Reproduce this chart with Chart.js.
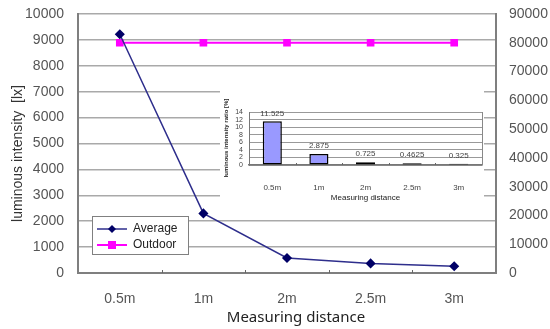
<!DOCTYPE html>
<html>
<head>
<meta charset="utf-8">
<script src="https://cdn.jsdelivr.net/npm/chart.js@4/dist/chart.umd.min.js"></script>
<style>
  html, body { margin: 0; padding: 0; background: #fff; }
  #wrap { position: relative; width: 550px; height: 329px; }
  #main { position: absolute; left: 0; top: 0; }
  #inset { position: absolute; left: 220px; top: 88px; }
</style>
</head>
<body>
<div id="wrap">
  <canvas id="main" width="550" height="329"></canvas>
  <canvas id="inset" width="264" height="118"></canvas>
</div>
<script>
// ---- data ----
const categories = ['0.5m', '1m', '2m', '2.5m', '3m'];
const averageLux = [9220, 2300, 580, 370, 260];
const outdoorLux = [80000, 80000, 80000, 80000, 80000];
const ratioPct = [11.525, 2.875, 0.725, 0.4625, 0.325];
const ratioLabels = ['11.525', '2.875', '0.725', '0.4625', '0.325'];
const seriesNames = ['Average', 'Outdoor'];
const leftTitle = 'luminous intensity  [lx]';
const xTitle = 'Measuring distance';
const insetYTitle = 'luminous intensity ratio [%]';
const insetXTitle = 'Measuring distance';

const NAVY = '#2e2e8c';
const NAVY_PT = '#000066';
const MAGENTA = '#ff00ff';
const GRID = '#a9a9a9';
const AXIS = '#7f7f7f';
const TICK = '#555555';
const plain = v => String(v);

function betweenTicks(chart, scale, len, color) {
  const ctx = chart.ctx;
  const n = scale.ticks.length;
  ctx.save();
  ctx.strokeStyle = color;
  ctx.lineWidth = 1;
  for (let i = 0; i < n - 1; i++) {
    const x = Math.round((scale.getPixelForValue(i) + scale.getPixelForValue(i + 1)) / 2) + 0.5;
    ctx.beginPath();
    ctx.moveTo(x, scale.top);
    ctx.lineTo(x, scale.top - len);
    ctx.stroke();
  }
  ctx.restore();
}
function fitV(w) {
  return function (s) { s.width = w; s.paddingTop = 0; s.paddingBottom = 0; };
}
function fitH(h) {
  return function (s) { s.height = h; s.paddingLeft = 0; s.paddingRight = 0; };
}

// ---- main chart ----
const mainDecor = {
  id: 'mainDecor',
  afterDraw(chart) {
    const ctx = chart.ctx;
    const ca = chart.chartArea;
    betweenTicks(chart, chart.scales.x, 3, '#666');
    ctx.save();
    ctx.fillStyle = '#333';
    ctx.font = '14px "Liberation Sans", Arial, sans-serif';
    ctx.textAlign = 'center';
    ctx.textBaseline = 'middle';
    ctx.save();
    ctx.translate(18, (ca.top + ca.bottom) / 2 + 10);
    ctx.rotate(-Math.PI / 2);
    ctx.fillText(leftTitle, 0, 0);
    ctx.restore();
    ctx.font = '15px "Noto Sans", sans-serif';
    ctx.fillStyle = '#222';
    ctx.fillText(xTitle, (ca.left + ca.right) / 2 + 9, 318);

    // legend
    const bx = ca.left + 14, by = 216, bw = 96, bh = 38;
    ctx.fillStyle = '#fff';
    ctx.fillRect(bx, by, bw, bh);
    ctx.strokeStyle = '#808080';
    ctx.lineWidth = 1;
    ctx.strokeRect(bx + 0.5, by + 0.5, bw, bh);
    const rows = [by + 13, by + 29];
    chart.data.datasets.forEach((ds, i) => {
      const y = rows[i];
      ctx.strokeStyle = ds.borderColor;
      ctx.lineWidth = ds.borderWidth;
      ctx.beginPath();
      ctx.moveTo(bx + 5, y);
      ctx.lineTo(bx + 35, y);
      ctx.stroke();
      ctx.fillStyle = ds.pointBackgroundColor;
      if (ds.pointStyle === 'rect') {
        ctx.fillRect(bx + 20 - 4, y - 4, 8, 8);
      } else {
        ctx.beginPath();
        ctx.moveTo(bx + 20, y - 4);
        ctx.lineTo(bx + 24, y);
        ctx.lineTo(bx + 20, y + 4);
        ctx.lineTo(bx + 16, y);
        ctx.closePath();
        ctx.fill();
      }
      ctx.fillStyle = '#222';
      ctx.font = '12px "Liberation Sans", Arial, sans-serif';
      ctx.textAlign = 'left';
      ctx.fillText(ds.label, bx + 41, y);
    });
    ctx.restore();
  }
};

new Chart(document.getElementById('main'), {
  type: 'line',
  data: {
    labels: categories,
    datasets: [
      {
        label: seriesNames[0],
        data: averageLux,
        yAxisID: 'y',
        borderColor: NAVY,
        borderWidth: 1.5,
        pointStyle: 'rectRot',
        pointRadius: 4,
        pointBackgroundColor: NAVY_PT,
        pointBorderColor: NAVY_PT,
        tension: 0
      },
      {
        label: seriesNames[1],
        data: outdoorLux,
        yAxisID: 'y2',
        borderColor: MAGENTA,
        borderWidth: 2,
        pointStyle: 'rect',
        pointRadius: 4,
        pointBackgroundColor: MAGENTA,
        pointBorderColor: MAGENTA,
        tension: 0
      }
    ]
  },
  options: {
    responsive: false,
    animation: false,
    layout: { autoPadding: false, padding: { top: 14, left: 0, right: 0, bottom: 0 } },
    plugins: { legend: { display: false }, tooltip: { enabled: false } },
    scales: {
      x: {
        offset: true,
        grid: { display: false },
        border: { display: true, color: AXIS, width: 2 },
        ticks: { color: TICK, font: { family: '"Liberation Sans", Arial, sans-serif', size: 14 }, padding: 10 },
        afterFit: fitH(56)
      },
      y: {
        position: 'left',
        min: 0, max: 10000,
        ticks: { stepSize: 1000, autoSkip: false, callback: plain, color: TICK, padding: 14, font: { family: '"Liberation Sans", Arial, sans-serif', size: 14 } },
        grid: { color: GRID, lineWidth: 1.5, drawTicks: false },
        border: { display: true, color: AXIS, width: 2 },
        afterFit: fitV(78)
      },
      y2: {
        position: 'right',
        min: 0, max: 90000,
        ticks: { stepSize: 10000, autoSkip: false, callback: plain, color: TICK, padding: 13, font: { family: '"Liberation Sans", Arial, sans-serif', size: 14 } },
        grid: { display: false, drawTicks: false },
        border: { display: true, color: AXIS, width: 2 },
        afterFit: fitV(54)
      }
    }
  },
  plugins: [mainDecor]
});

// ---- inset chart ----
const insetDecor = {
  id: 'insetDecor',
  beforeDraw(chart) {
    const ctx = chart.ctx;
    ctx.save();
    ctx.fillStyle = '#fff';
    ctx.fillRect(0, 0, chart.width, chart.height);
    ctx.restore();
  },
  afterDatasetsDraw(chart) {
    const ctx = chart.ctx;
    const meta = chart.getDatasetMeta(0);
    ctx.save();
    ctx.fillStyle = '#444';
    ctx.font = '8px "Liberation Sans", Arial, sans-serif';
    ctx.textAlign = 'center';
    ctx.textBaseline = 'middle';
    meta.data.forEach((bar, i) => {
      ctx.fillText(ratioLabels[i], bar.x, bar.y - 8);
    });
    ctx.restore();
  },
  afterDraw(chart) {
    const ctx = chart.ctx;
    const ca = chart.chartArea;
    betweenTicks(chart, chart.scales.x, 2, '#666');
    ctx.save();
    ctx.strokeStyle = '#888';
    ctx.lineWidth = 1;
    ctx.beginPath();
    ctx.moveTo(Math.round(ca.right) + 0.5, ca.top);
    ctx.lineTo(Math.round(ca.right) + 0.5, ca.bottom);
    ctx.stroke();
    ctx.fillStyle = '#222';
    ctx.textAlign = 'center';
    ctx.textBaseline = 'middle';
    ctx.font = '8px "Liberation Sans", Arial, sans-serif';
    ctx.fillText(insetXTitle, (ca.left + ca.right) / 2, 110);
    ctx.save();
    ctx.translate(6, 50);
    ctx.rotate(-Math.PI / 2);
    ctx.font = 'bold 6px "Liberation Sans", Arial, sans-serif';
    ctx.fillText(insetYTitle, 0, 0);
    ctx.restore();
    ctx.restore();
  }
};

new Chart(document.getElementById('inset'), {
  type: 'bar',
  data: {
    labels: categories,
    datasets: [{
      data: ratioPct,
      backgroundColor: ['#9999ff', '#9999ff', '#ff0000', '#333366', '#000000'],
      borderColor: '#000000',
      borderWidth: 1.5,
      borderSkipped: false,
      barPercentage: 0.41,
      categoryPercentage: 1
    }]
  },
  options: {
    responsive: false,
    animation: false,
    layout: { autoPadding: false, padding: { top: 24, right: 2, left: 0, bottom: 0 } },
    plugins: { legend: { display: false }, tooltip: { enabled: false } },
    scales: {
      x: {
        grid: { display: false },
        border: { display: true, color: '#777', width: 1.5 },
        ticks: { color: '#444', padding: 10, font: { family: '"Liberation Sans", Arial, sans-serif', size: 8 } },
        afterFit: fitH(41)
      },
      y: {
        min: 0, max: 14,
        ticks: { stepSize: 2, autoSkip: false, color: '#444', padding: 6, font: { family: '"Liberation Sans", Arial, sans-serif', size: 7 } },
        grid: { color: '#999', lineWidth: 1, drawTicks: false },
        border: { display: true, color: '#777', width: 1 },
        afterFit: fitV(29)
      }
    }
  },
  plugins: [insetDecor]
});
</script>
</body>
</html>
